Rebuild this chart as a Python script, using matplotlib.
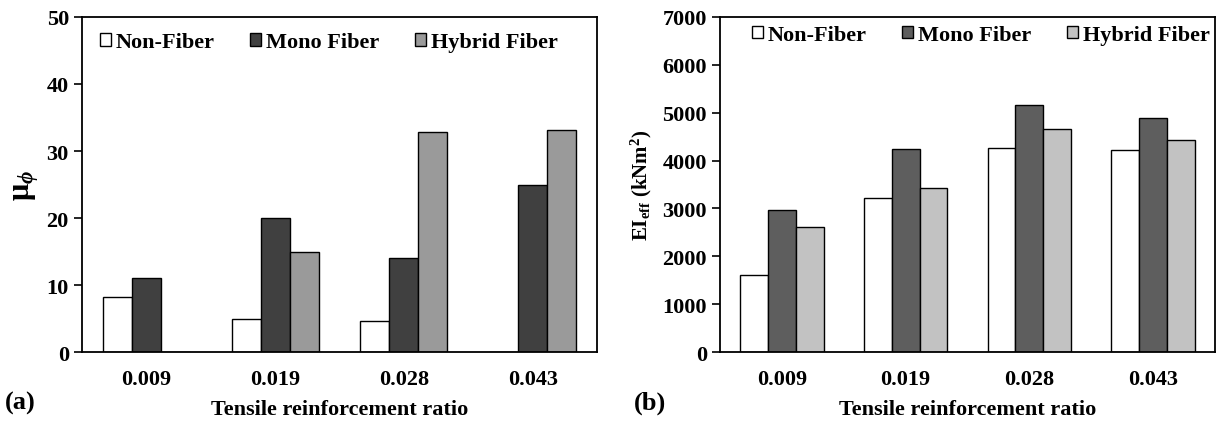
import numpy as np
import matplotlib
matplotlib.use("Agg")
import matplotlib.pyplot as plt

plt.rcParams["font.family"] = "Liberation Serif"
plt.rcParams["font.weight"] = "bold"
plt.rcParams["axes.labelweight"] = "bold"
plt.rcParams["mathtext.fontset"] = "custom"
plt.rcParams["mathtext.rm"] = "Liberation Serif:bold"
plt.rcParams["mathtext.it"] = "Liberation Serif:italic:bold"
plt.rcParams["mathtext.bf"] = "Liberation Serif:bold"

ratios = ["0.009", "0.019", "0.028", "0.043"]
series = ["Non-Fiber", "Mono Fiber", "Hybrid Fiber"]

# (a) curvature ductility
mu_non = [8.2, 5.0, 4.6, 0]
mu_mono = [11.1, 20.0, 14.0, 25.0]
mu_hybrid = [0, 15.0, 32.8, 33.1]

# (b) effective flexural stiffness, kNm^2
ei_non = [1620, 3220, 4260, 4230]
ei_mono = [2960, 4240, 5170, 4890]
ei_hybrid = [2620, 3420, 4670, 4440]

colors_a = ["white", "#404040", "#9a9a9a"]
colors_b = ["white", "#5e5e5e", "#c2c2c2"]

fig = plt.figure(figsize=(12.17, 4.27), dpi=100)
ax1 = fig.add_axes([0.0674, 0.173, 0.4232, 0.785])
ax2 = fig.add_axes([0.5916, 0.173, 0.4067, 0.785])


def draw(ax, data, colors, ymax, ystep, legend_pos):
    x = np.arange(len(ratios))
    w = 0.225
    for i, (vals, c, name) in enumerate(zip(data, colors, series)):
        ax.bar(x + (i - 1) * w, vals, w, color=c, edgecolor="black",
               linewidth=1.0, label=name)
    ax.set_xlim(-0.5, len(ratios) - 0.5)
    ax.set_ylim(0, ymax)
    ax.set_yticks(np.arange(0, ymax + 1, ystep))
    ax.set_xticks(x)
    ax.set_xticklabels(ratios)
    ax.tick_params(axis="x", length=0, pad=12, labelsize=16)
    ax.tick_params(axis="y", direction="out", length=6, width=1.2, labelsize=16)
    for s in ax.spines.values():
        s.set_linewidth(1.3)
    ax.set_xlabel("Tensile reinforcement ratio", fontsize=16, labelpad=7)
    ax.legend(loc="center", bbox_to_anchor=legend_pos, ncol=3, frameon=False,
              fontsize=16, handlelength=0.5, handleheight=0.5,
              handletextpad=0.22, columnspacing=1.6)


draw(ax1, [mu_non, mu_mono, mu_hybrid], colors_a, 50, 10, (0.479, 0.925))
draw(ax2, [ei_non, ei_mono, ei_hybrid], colors_b, 7000, 1000, (0.527, 0.946))

ax1.set_ylabel(r"$\mathrm{\mu}_{\phi}$", fontsize=22, labelpad=4)
ax2.set_ylabel(r"EI$_{\mathrm{eff}}$ (kNm$^{\mathrm{2}}$)", fontsize=15, labelpad=6)

fig.text(0.004, 0.04, "(a)", fontsize=19, fontweight="bold")
fig.text(0.521, 0.04, "(b)", fontsize=19, fontweight="bold")

fig.savefig("out.png", dpi=100)
